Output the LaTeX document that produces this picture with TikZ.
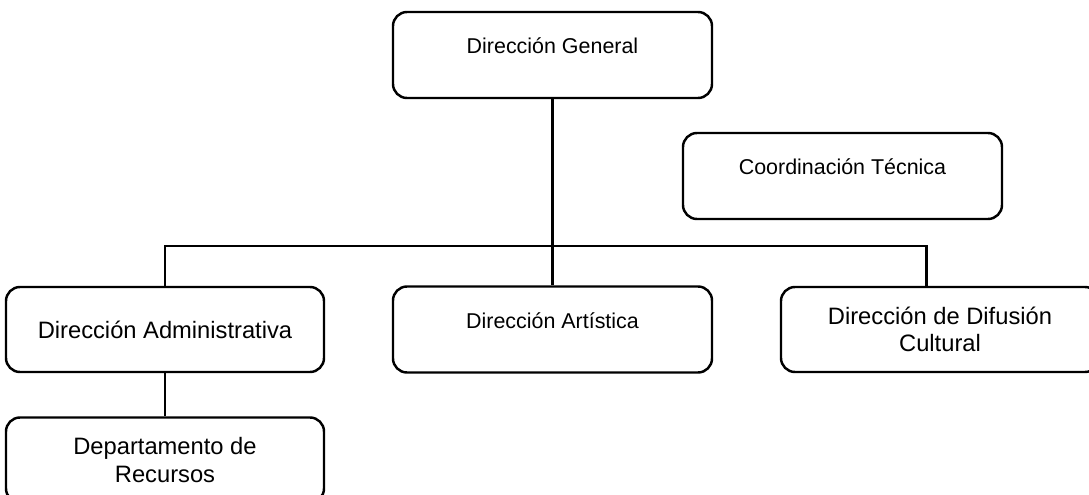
\documentclass[tikz,border=0pt]{standalone}
\usepackage{fontspec}
\setmainfont{Liberation Sans}
\usepackage{tikz}
\usetikzlibrary{positioning}
\tikzstyle{office} = [rectangle, rounded corners=0.28cm, minimum width=6.38cm, minimum height=1.72cm, text centered, draw=black, line width=1.4pt, font=\fontsize{12.2}{14.5}\selectfont, text depth=10.5pt]
\tikzstyle{officebig} = [rectangle, rounded corners=0.28cm, minimum width=6.36cm, minimum height=1.7cm, align=center, draw=black, line width=1.4pt, font=\fontsize{13.5}{15.5}\selectfont]
\tikzstyle{link} = [line width=1.4pt]

\begin{document}
\begin{tikzpicture}[node distance=7.75cm]
\tikzstyle{office} = [rectangle, rounded corners=0.28cm, minimum width=6.38cm, minimum height=1.72cm, text centered, draw=black, line width=1.4pt, font=\fontsize{12.2}{14.5}\selectfont, text depth=10.5pt]
\tikzstyle{officebig} = [rectangle, rounded corners=0.28cm, minimum width=6.36cm, minimum height=1.7cm, align=center, draw=black, line width=1.4pt, font=\fontsize{13.5}{15.5}\selectfont]
\tikzstyle{link} = [line width=1.4pt]

\useasboundingbox (0,0) rectangle (21.78,-9.9);

\node (gen) [office] at (11.05,-1.1) {Dirección General};
\node (art) [office, below of=gen, yshift=2.26cm] {Dirección Artística};
\node (coord) [office, right of=gen, xshift=-1.95cm, yshift=-2.42cm] {Coordinación Técnica};
\node (admin) [officebig, left of=art] {Dirección Administrativa};
\node (dif) [officebig, right of=art] {Dirección de Difusión\\Cultural};
\node (dept) [officebig, below of=admin, yshift=5.14cm] {Departamento de\\Recursos};

\draw [link] (gen.south) -- ++(0,-2.94) coordinate (bus);
\draw [link] (admin.north) |- (bus) -| ([xshift=-0.27cm]dif.north);
\draw [link] (bus) -- (art.north);
\draw [link] (admin) -- (dept);
\end{tikzpicture}
\end{document}
